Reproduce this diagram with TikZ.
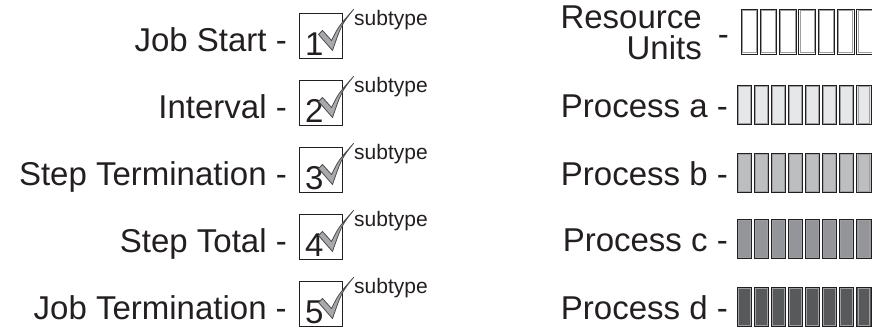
\documentclass[tikz,border=0pt]{standalone}
\usepackage{fontspec}
\setmainfont{Liberation Sans}
\definecolor{ink}{HTML}{231F20}
\definecolor{fa}{HTML}{E6E7E8}
\definecolor{fb}{HTML}{BCBEC0}
\definecolor{fc}{HTML}{939598}
\definecolor{fd}{HTML}{58595B}
\definecolor{chkfill}{HTML}{A7A9AC}
\definecolor{innerline}{HTML}{9D9FA2}
\begin{document}
\begin{tikzpicture}[x=1pt,y=-1pt,
  lbl/.style={inner sep=0pt, text=ink, font=\fontsize{33}{34}\selectfont},
  sub/.style={inner sep=0pt, text=ink, font=\fontsize{21}{22}\selectfont},
  cbox/.style={draw=ink, line width=1pt, minimum width=43pt, minimum height=45pt, inner sep=0pt},
  chk/.style={draw=ink!80, line width=0.8pt, fill=chkfill, line join=round},
  bar/.style={draw=ink, line width=1pt, inner sep=0pt, outer sep=0pt,
    path picture={\draw[innerline, line width=0.7pt]
      ([shift={(1.2pt,-1.2pt)}]path picture bounding box.north west) rectangle
      ([shift={(-1.2pt,1.2pt)}]path picture bounding box.south east);}},
  tallbar/.style={bar, minimum width=16.5pt, minimum height=45pt},
  pbar/.style={bar, minimum width=14.3pt, minimum height=39.5pt}]
\useasboundingbox (0,0) rectangle (872,335);
\clip (0,0) rectangle (872,335);
% left column
\foreach \i/\t/\n in {1/51/Job Start -, 2/118/Interval -, 3/185/Step Termination -, 4/252/Step Total -, 5/319/Job Termination -}{
  \node[lbl, anchor=base east] (l\i) at (287,\t) {\n};
  \node[cbox] (b\i) at (320.5,\t-15.5) {};
  \node[lbl, anchor=base west] (d\i) at (305,\t+4) {\i};
  \draw[chk, shift={(b\i.north west)}] (20,22) -- (24,18) -- (33,28) .. controls (40,14) .. (55,-3) .. controls (43,12) .. (34,38) -- cycle;
  \node[sub, anchor=base west] (s\i) at (354,\t-26) {subtype};
}
% right column
\node[lbl, anchor=base east] (res) at (702,28) {Resource};
\node[lbl, anchor=base east] (uni) at (702,59) {Units};
\node[lbl, anchor=base east] (rd) at (729,45) {-};
\foreach \k in {0,...,6}{
  \node[tallbar, fill=white] (r\k) at (741+8.25+19.3*\k,31.5) {};
}
\foreach \j/\top/\c in {a/85/fa, b/153/fb, c/219/fc, d/287/fd}{
  \node[lbl, anchor=base east] (p\j) at (728,\top+32) {Process \j\ -};
  \foreach \k in {0,...,7}{
    \node[pbar, fill=\c] (\j\k) at (737+7.15+17.1*\k,\top+19.75) {};
  }
}
\end{tikzpicture}
\end{document}
